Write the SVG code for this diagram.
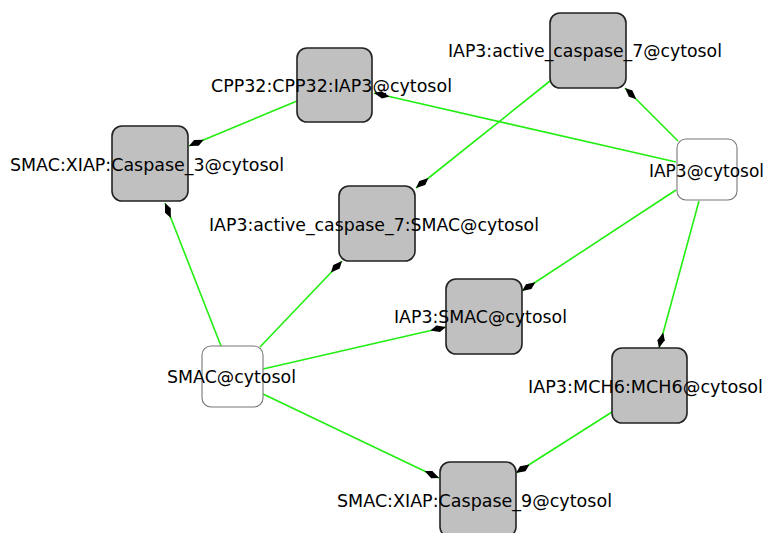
<svg xmlns="http://www.w3.org/2000/svg" width="767" height="533" viewBox="0 0 767 533">
<style>
.bg{fill:#ffffff}
.cx{fill:#c0c0c0;stroke:#222222;stroke-width:1.6}
.sp{fill:#ffffff;stroke:#777777;stroke-width:1.1}
.lbl{font-family:"DejaVu Sans","Liberation Sans",sans-serif;font-size:17.2px;fill:#000000}
.e{stroke:#22ee11;stroke-width:1.6;fill:none;marker-end:url(#dia)}
</style>
<defs>
<marker id="dia" viewBox="0 0 16 8" refX="16" refY="4" markerWidth="16" markerHeight="8" markerUnits="userSpaceOnUse" orient="auto">
<path d="M0,4 L7,0.5 L16,4 L9,7.5 Z" fill="#000000"/>
</marker>
</defs>
<rect class="bg" x="0" y="0" width="767" height="533"/>
<g id="connectors">
<line class="e" x1="297" y1="101" x2="189" y2="146"/>
<line class="e" x1="676" y1="162" x2="374" y2="93"/>
<line class="e" x1="678" y1="141" x2="625" y2="88"/>
<line class="e" x1="550" y1="81" x2="416" y2="188"/>
<line class="e" x1="221" y1="346" x2="165" y2="203"/>
<line class="e" x1="260" y1="347" x2="342" y2="261"/>
<line class="e" x1="263" y1="369" x2="446" y2="327"/>
<line class="e" x1="676" y1="190" x2="522" y2="291"/>
<line class="e" x1="699" y1="201" x2="659" y2="348"/>
<line class="e" x1="263" y1="394" x2="439" y2="478"/>
<line class="e" x1="612" y1="412" x2="516" y2="473"/>
</g>
<g id="n_cpp32">
<rect class="cx" x="297" y="48" width="75" height="74" rx="10"/>
<text class="lbl" x="211" y="92" textLength="241" lengthAdjust="spacingAndGlyphs">CPP32:CPP32:IAP3@cytosol</text>
</g>
<g id="n_smac_xiap_c3">
<rect class="cx" x="112" y="126" width="76" height="75" rx="10"/>
<text class="lbl" x="10" y="171" textLength="274" lengthAdjust="spacingAndGlyphs">SMAC:XIAP:Caspase_3@cytosol</text>
</g>
<g id="n_iap3_ac7">
<rect class="cx" x="550" y="13" width="76" height="75" rx="10"/>
<text class="lbl" x="448" y="57" textLength="274" lengthAdjust="spacingAndGlyphs">IAP3:active_caspase_7@cytosol</text>
</g>
<g id="n_iap3">
<rect class="sp" x="677" y="139" width="60" height="61" rx="9"/>
<text class="lbl" x="649" y="177" textLength="115" lengthAdjust="spacingAndGlyphs">IAP3@cytosol</text>
</g>
<g id="n_iap3_ac7_smac">
<rect class="cx" x="339" y="186" width="76" height="75" rx="10"/>
<text class="lbl" x="209" y="231" textLength="330" lengthAdjust="spacingAndGlyphs">IAP3:active_caspase_7:SMAC@cytosol</text>
</g>
<g id="n_iap3_smac">
<rect class="cx" x="446" y="279" width="76" height="75" rx="10"/>
<text class="lbl" x="394" y="323" textLength="173" lengthAdjust="spacingAndGlyphs">IAP3:SMAC@cytosol</text>
</g>
<g id="n_smac">
<rect class="sp" x="202" y="346" width="61" height="61" rx="9"/>
<text class="lbl" x="167" y="383" textLength="129" lengthAdjust="spacingAndGlyphs">SMAC@cytosol</text>
</g>
<g id="n_iap3_mch6">
<rect class="cx" x="612" y="348" width="75" height="75" rx="10"/>
<text class="lbl" x="528" y="393" textLength="235" lengthAdjust="spacingAndGlyphs">IAP3:MCH6:MCH6@cytosol</text>
</g>
<g id="n_smac_xiap_c9">
<rect class="cx" x="440" y="462" width="76" height="75" rx="10"/>
<text class="lbl" x="337" y="507" textLength="275" lengthAdjust="spacingAndGlyphs">SMAC:XIAP:Caspase_9@cytosol</text>
</g>
</svg>
